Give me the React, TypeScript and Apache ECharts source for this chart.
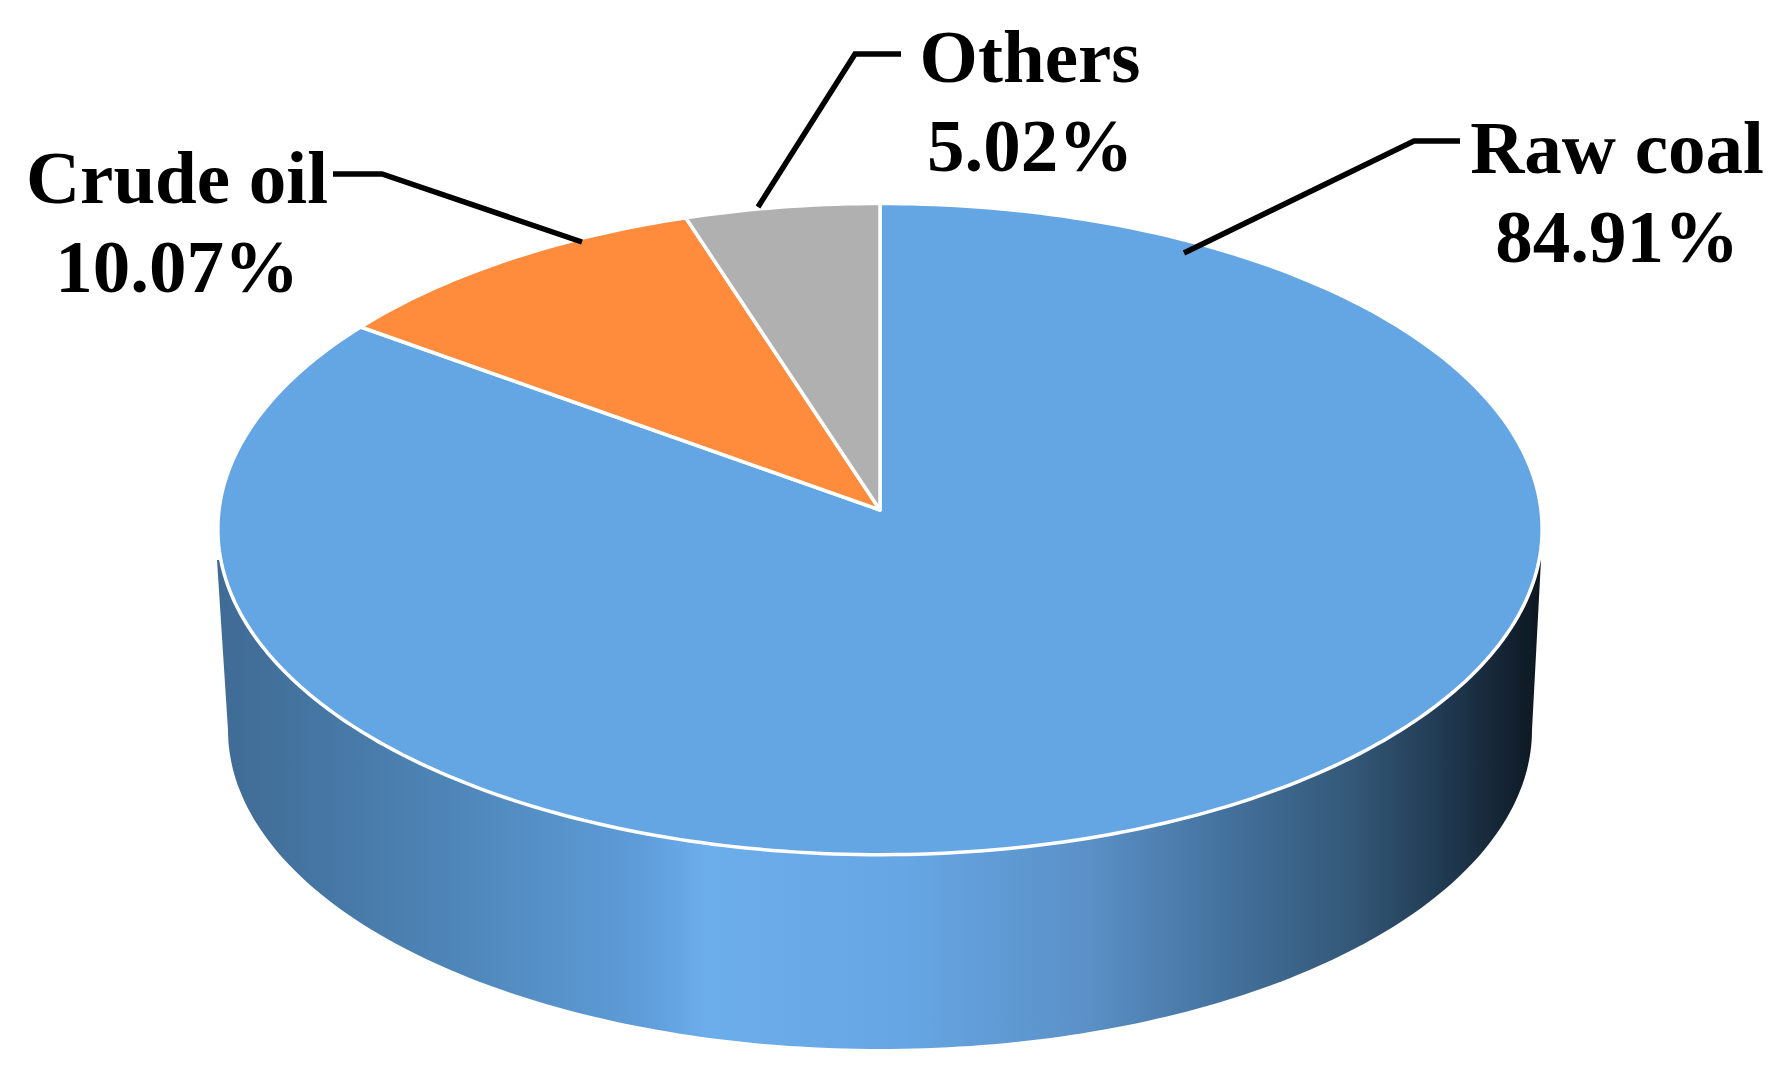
import React, { useEffect, useRef } from "react";
import * as echarts from "echarts";

const categories = ["Raw coal", "Crude oil", "Others"];
const shares = [84.91, 10.07, 5.02];
const sliceColors = ["#64a5e3", "#ff8b3d", "#b0b0b0"];

const labelCenters = [
  [1617, 192],
  [177, 222],
  [1030, 101],
];
const leaders = [
  [[1184, 253], [1414, 141], [1460, 141]],
  [[582, 242], [382, 174], [333, 174]],
  [[758, 207], [855, 54], [901, 54]],
];

const sideStops = [
  { offset: 0, color: "#3f6b95" },
  { offset: 0.06, color: "#44739f" },
  { offset: 0.2, color: "#5089bd" },
  { offset: 0.32, color: "#5e9cd9" },
  { offset: 0.37, color: "#6cadec" },
  { offset: 0.52, color: "#66a6e4" },
  { offset: 0.66, color: "#5a90c6" },
  { offset: 0.76, color: "#44729e" },
  { offset: 0.86, color: "#335776" },
  { offset: 0.93, color: "#1f3850" },
  { offset: 1, color: "#0d1720" },
];

// Perspective projection of the disc: the centre of the pie sits above the centre of the ellipse
const APEX_X = 880;
const APEX_Y = 510;
const DISC_A = 661;
const DISC_B = 324.5;
const PERSPECTIVE = 0.0586;

function project(angle: number): number[] {
  const X = Math.sin(angle);
  const Y = Math.cos(angle);
  const w = 1 + PERSPECTIVE * Y;
  return [APEX_X + (DISC_A * X) / w, APEX_Y - (DISC_B * Y) / w];
}

const total = shares.reduce((a, b) => a + b, 0);

function renderSlice(params: any, api: any) {
  const i = params.dataIndex;
  const before = shares.slice(0, i).reduce((a, b) => a + b, 0);
  const start = (before / total) * Math.PI * 2;
  const sweep = (api.value(0) / total) * Math.PI * 2;
  const steps = Math.max(8, Math.round((sweep / (Math.PI * 2)) * 360));
  const points = [[APEX_X, APEX_Y]];
  for (let s = 0; s <= steps; s++) points.push(project(start + (sweep * s) / steps));
  return {
    type: "polygon",
    shape: { points },
    style: { fill: sliceColors[i], stroke: "#ffffff", lineWidth: 3.5, lineJoin: "round" },
  };
}

function renderSide() {
  const cy = 730;
  const a = 652;
  const b = 319;
  const points = [[217, 560]];
  for (let t = 180; t >= 0; t -= 1) {
    const r = (t * Math.PI) / 180;
    points.push([APEX_X + a * Math.cos(r), cy + b * Math.sin(r)]);
  }
  points.push([1541, 560]);
  return {
    type: "polygon",
    shape: { points },
    style: {
      fill: new echarts.graphic.LinearGradient(0, 0, 1, 0, sideStops),
    },
  };
}

export default function App() {
  const ref = useRef<HTMLDivElement>(null);
  useEffect(() => {
    document.body.style.margin = "0";
    document.body.style.background = "#ffffff";
    const chart = echarts.init(ref.current!, undefined, { renderer: "svg" });
    chart.setOption({
      animation: false,
      backgroundColor: "#ffffff",
      series: [
        {
          type: "custom",
          coordinateSystem: "none",
          silent: true,
          z: 1,
          data: [total],
          renderItem: renderSide,
        },
        {
          type: "custom",
          coordinateSystem: "none",
          silent: true,
          z: 2,
          data: shares,
          renderItem: renderSlice,
        },
      ],
      graphic: [
        ...leaders.map((points) => ({
          type: "polyline",
          z: 10,
          shape: { points },
          style: { stroke: "#000000", lineWidth: 5.5, fill: "none" },
        })),
        ...categories.map((name, i) => ({
          type: "text",
          z: 11,
          x: labelCenters[i][0],
          y: labelCenters[i][1],
          style: {
            text: `${name}\n${shares[i].toFixed(2)}%`,
            fontFamily: "Liberation Serif",
            fontWeight: "bold",
            fontSize: 75,
            lineHeight: 89,
            fill: "#000000",
            align: "center",
            verticalAlign: "middle",
          },
        })),
      ],
    });
    return () => chart.dispose();
  }, []);
  return <div ref={ref} style={{ width: 1788, height: 1078 }} />;
}
